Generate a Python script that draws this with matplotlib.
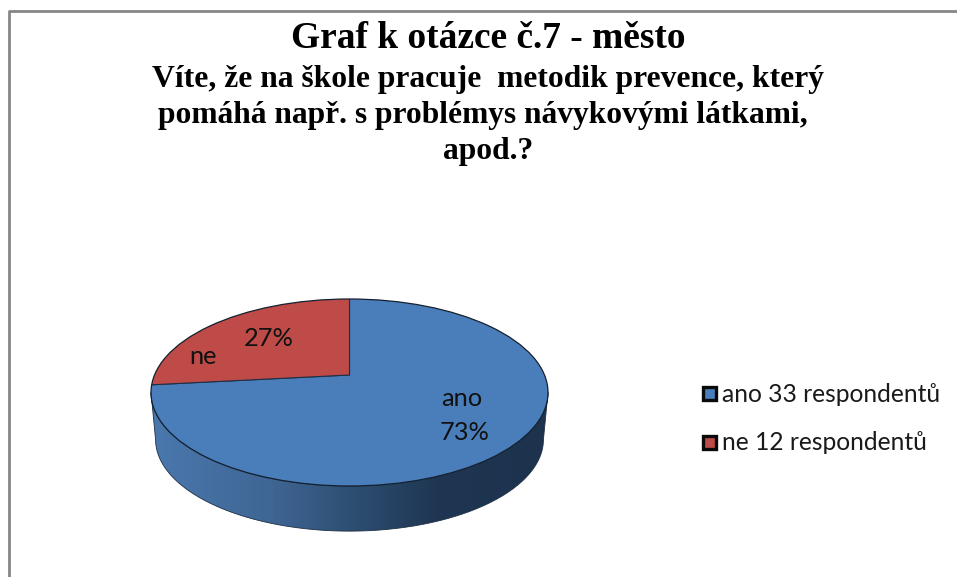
import numpy as np
import matplotlib
matplotlib.use("Agg")
import matplotlib.pyplot as plt
from matplotlib.patches import Circle, Rectangle, PathPatch
from matplotlib.path import Path
from matplotlib.colors import LinearSegmentedColormap

W, H = 957, 577
title_main = "Graf k otázce č.7 - město"
title_sub = ["Víte, že na škole pracuje  metodik prevence, který",
             "pomáhá např. s problémys návykovými látkami,",
             "apod.?"]
categories = ["ano", "ne"]
counts = [33, 12]
percent_labels = ["73%", "27%"]
legend_labels = ["ano 33 respondentů", "ne 12 respondentů"]
colors = ["#4A7EBB", "#BE4B48"]

fig = plt.figure(figsize=(W/100, H/100), dpi=100, facecolor="white")

# overlay in pixel coordinates for frame and text
bg = fig.add_axes([0, 0, 1, 1])
bg.set_xlim(0, W); bg.set_ylim(H, 0); bg.axis("off")
bg.plot([8.5, 8.5, W], [H, 10.5, 10.5], color="#868686", lw=2, solid_capstyle="butt")

SERIF = "Liberation Serif"
SANS = "Lato"
bg.text(488, 39, title_main, family=SERIF, weight="bold", size=26.9, ha="center", va="center", color="black")
for x, y, s in zip([488, 483, 488], [80, 116, 152], title_sub):
    bg.text(x, y, s, family=SERIF, weight="bold", size=22.7, ha="center", va="center", color="black")

# pie axes: unit circle mapped on the tilted ellipse, extended below for the wall
L, R, T, B = 151, 548, 299, 486
WALL = 47
ry = (B-T)/2
depth = WALL/ry
ax = fig.add_axes([L/W, 1-(B+WALL+2)/H, (R-L)/W, (B+WALL+2-T)/H])
apex_y = (392.5-375)/ry
wedges, _ = ax.pie(counts, colors=colors, startangle=90, counterclock=False,
                   center=(0, apex_y), radius=1.7,
                   wedgeprops=dict(edgecolor="#1f2f45", linewidth=0.8))
ylim = (-1-depth-2/ry, 1)
disc = Circle((0, 0), 1, transform=ax.transData)
for w in wedges:
    w.set_clip_on(True)
    w.set_clip_path(disc)
    w.set_zorder(4)

# side wall
shrink = 0.977
t = np.linspace(np.pi, 2*np.pi, 200)
upper = np.c_[np.cos(t), np.sin(t)]
lower = np.c_[shrink*np.cos(t[::-1]), np.sin(t[::-1])*0.98 - depth]
verts = np.r_[upper, lower, upper[:1]]
wall = Path(verts, closed=False)
cmap = LinearSegmentedColormap.from_list("side", [(0, "#4A78AE"), (0.3, "#3F6694"), (0.5, "#2E4F73"),
                                                  (0.72, "#1F3652"), (1, "#1C324D")])
grad = np.linspace(0, 1, 256).reshape(1, -1)
im = ax.imshow(grad, cmap=cmap, extent=[-1, 1, ylim[0], 0.2], aspect="auto", zorder=2, interpolation="bilinear")
im.set_clip_path(PathPatch(wall, transform=ax.transData))
ax.add_patch(PathPatch(wall, fill=False, edgecolor="#1f2f45", lw=0.6, zorder=3, clip_on=False))
ax.set_aspect("auto")
ax.set_xlim(-1, 1); ax.set_ylim(*ylim)
ax.add_patch(Circle((0, 0), 1, fill=False, edgecolor="#14202f", lw=0.9, zorder=5, clip_on=False))

# data labels
for (x, y, s) in [(462, 398, categories[0]), (465, 433, percent_labels[0]),
                  (203, 356, categories[1]), (269, 338, percent_labels[1])]:
    bg.text(x, y, s, family=SANS, size=18.3, ha="center", va="center", color="#111111", zorder=10)
bg.set_zorder(10); bg.patch.set_alpha(0)

# legend
for y, c, s in zip([393, 442], colors, legend_labels):
    bg.add_patch(Rectangle((703, y-6.5), 13, 13, facecolor=c, edgecolor="#0a0a0a", lw=2.4))
    bg.text(722, y+1, s, family=SANS, size=17.7, ha="left", va="center", color="#1a1a1a")

fig.savefig("out.png", dpi=100, facecolor="white")
